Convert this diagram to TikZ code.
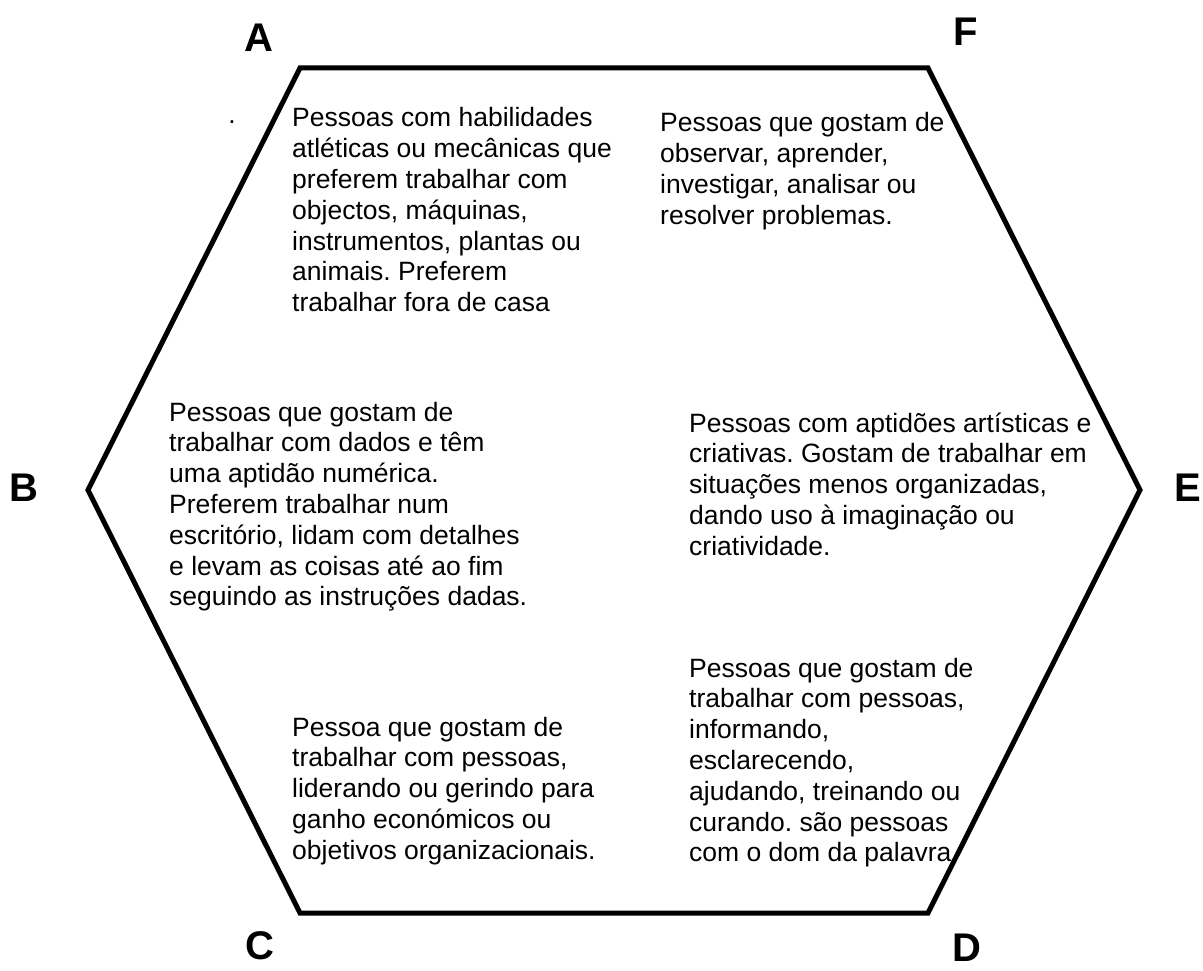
\documentclass[tikz,border=0pt]{standalone}
\usepackage{fontspec}
\setmainfont{Liberation Sans}
\frenchspacing
\begin{document}
\begin{tikzpicture}[x=1pt,y=-1pt,
  desc/.style={anchor=base west, inner sep=0pt, font=\fontsize{26.5}{30.8}\selectfont\frenchspacing},
  lab/.style={inner sep=0pt, font=\fontsize{40}{44}\selectfont\bfseries},
  hex/.style={line width=5pt, line join=miter}]
\useasboundingbox (0,0) rectangle (1203,971);
% hexagon vertices
\coordinate (vA) at (300,68);
\coordinate (vF) at (928,68);
\coordinate (vE) at (1140,490);
\coordinate (vD) at (928,913);
\coordinate (vC) at (300,913);
\coordinate (vB) at (88,490);
\draw[hex] (vA) -- (vF) -- (vE) -- (vD) -- (vC) -- (vB) -- cycle;
% corner labels
\node[lab] (lA) at (259,38) {A};
\node[lab] (lF) at (966,32) {F};
\node[lab] (lB) at (24,488) {B};
\node[lab] (lE) at (1188,488) {E};
\node[lab] (lC) at (260,946) {C};
\node[lab] (lD) at (967,948) {D};
% stray dot
\node[inner sep=0pt, font=\fontsize{26.5}{30.8}\selectfont] (dot) at (232,122) {.};
% descriptions
\node[desc] (tA) at (292,127) {\begin{tabular}[t]{@{}l@{}}Pessoas com habilidades\\atléticas ou mecânicas que\\preferem trabalhar com\\objectos, máquinas,\\instrumentos, plantas ou\\animais. Preferem\\trabalhar fora de casa\end{tabular}};
\node[desc] (tF) at (660,132) {\begin{tabular}[t]{@{}l@{}}Pessoas que gostam de\\observar, aprender,\\investigar, analisar ou\\resolver problemas.\end{tabular}};
\node[desc] (tB) at (169,421) {\begin{tabular}[t]{@{}l@{}}Pessoas que gostam de\\trabalhar com dados e têm\\uma aptidão numérica.\\Preferem trabalhar num\\escritório, lidam com detalhes\\e levam as coisas até ao fim\\seguindo as instruções dadas.\end{tabular}};
\node[desc] (tE) at (689,432) {\begin{tabular}[t]{@{}l@{}}Pessoas com aptidões artísticas e\\criativas. Gostam de trabalhar em\\situações menos organizadas,\\dando uso à imaginação ou\\criatividade.\end{tabular}};
\node[desc] (tC) at (292,736) {\begin{tabular}[t]{@{}l@{}}Pessoa que gostam de\\trabalhar com pessoas,\\liderando ou gerindo para\\ganho económicos ou\\objetivos organizacionais.\end{tabular}};
\node[desc] (tD) at (689,677) {\begin{tabular}[t]{@{}l@{}}Pessoas que gostam de\\trabalhar com pessoas,\\informando,\\esclarecendo,\\ajudando, treinando ou\\curando. são pessoas\\com o dom da palavra.\end{tabular}};
\end{tikzpicture}
\end{document}
